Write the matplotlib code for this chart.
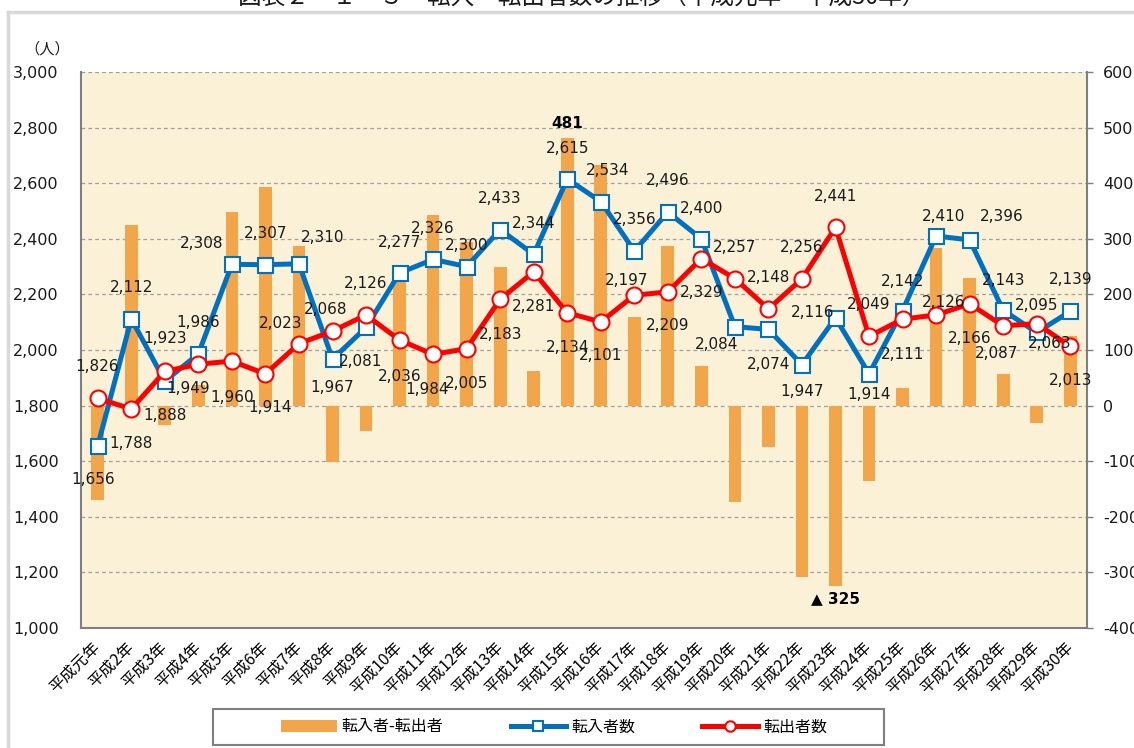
import matplotlib
matplotlib.use('Agg')
import matplotlib.pyplot as plt
from matplotlib.lines import Line2D
from matplotlib.patches import Patch, Rectangle

plt.rcParams['font.family'] = ['DejaVu Sans', 'Noto Sans CJK JP']

# ---------------- data ----------------
years = ['平成元年', '平成2年', '平成3年', '平成4年', '平成5年', '平成6年', '平成7年',
         '平成8年', '平成9年', '平成10年', '平成11年', '平成12年', '平成13年', '平成14年',
         '平成15年', '平成16年', '平成17年', '平成18年', '平成19年', '平成20年', '平成21年',
         '平成22年', '平成23年', '平成24年', '平成25年', '平成26年', '平成27年', '平成28年',
         '平成29年', '平成30年']
transfers_in = [1656, 2112, 1888, 1986, 2308, 2307, 2310, 1967, 2081, 2277,
                2326, 2300, 2433, 2344, 2615, 2534, 2356, 2496, 2400, 2084,
                2074, 1947, 2116, 1914, 2142, 2410, 2396, 2143, 2063, 2139]
transfers_out = [1826, 1788, 1923, 1949, 1960, 1914, 2023, 2068, 2126, 2036,
                 1984, 2005, 2183, 2281, 2134, 2101, 2197, 2209, 2329, 2257,
                 2148, 2256, 2441, 2049, 2111, 2126, 2166, 2087, 2095, 2013]
net = [-170, 324, -35, 37, 348, 393, 287, -101, -45, 241,
       342, 295, 250, 63, 481, 433, 159, 287, 71, -173,
       -74, -309, -325, -135, 31, 284, 230, 56, -32, 126]
left_ticks = [1000, 1200, 1400, 1600, 1800, 2000, 2200, 2400, 2600, 2800, 3000]
right_ticks = [-400, -300, -200, -100, 0, 100, 200, 300, 400, 500, 600]
series_names = ['転入者-転出者', '転入者数', '転出者数']
title = '図表２－１－３　転入・転出者数の推移（平成元年～平成30年）'

# label offsets in pixels (dx, dy up) - styling only
in_off = [(-5, -34), (0, 31), (0, -34), (0, 31), (-30, 21), (0, 31), (24, 26), (0, -28),
          (-5, -34), (0, 30), (0, 31), (0, 21), (0, 31), (0, 31), (0, 31), (7, 31),
          (0, 32), (0, 32), (0, 30), (-18, -18), (0, -35), (0, -27), (-23, 5), (0, -21),
          (0, 29), (7, 20), (32, 23), (0, 30), (13, -11), (0, 32)]
out_off = [(-1, 32), (0, -35), (0, 33), (-10, -24), (0, -36), (5, -34), (-18, 20), (-7, 22),
           (0, 31), (0, -37), (-6, -35), (0, -35), (0, -35), (0, -35), (0, -35), (0, -34),
           (-8, 15), (0, -34), (0, -34), (0, 31), (0, 31), (0, 31), (0, 31), (0, 32),
           (0, -35), (8, 12), (0, -35), (-7, -28), (0, 18), (0, -34)]

BLUE = '#0070C0'
RED = '#FF0000'
ORANGE = '#F3A54A'
BG = '#FAF1D7'
GRAY = '#7F7F7F'

W, H = 1134, 748
fig = plt.figure(figsize=(W / 100, H / 100), dpi=100)
fig.patch.set_facecolor('white')

ax_bar = fig.add_axes([81 / W, 1 - 628 / H, 1006 / W, 556 / H])
ax_line = ax_bar.twinx()
ax_bar.set_facecolor(BG)
x = list(range(len(years)))

ax_bar.bar(x, net, width=0.38, color=ORANGE, zorder=2)
ax_bar.set_ylim(-400, 600)
ax_bar.set_yticks(right_ticks)
ax_bar.set_yticklabels([f'{v}' for v in right_ticks])
ax_bar.yaxis.tick_right()
ax_bar.set_xlim(-0.5, len(years) - 0.5)
ax_bar.set_axisbelow(True)
ax_bar.yaxis.grid(True, linestyle=(0, (3, 2.5)), color='#A0A0A0', linewidth=0.9)
ax_bar.tick_params(axis='y', which='both', right=True, left=False, labelleft=False,
                   labelright=True, length=4.5, width=1, color=GRAY, labelsize=11.5,
                   pad=7, labelcolor='#1a1a1a')
ax_bar.set_xticks(x)
ax_bar.set_xticklabels(years, rotation=45, ha='right', va='center',
                       rotation_mode='anchor', fontsize=11.5,
                       family=['Noto Sans CJK JP'])
ax_bar.tick_params(axis='x', length=0, pad=12)
for s in ['left', 'right', 'bottom']:
    ax_bar.spines[s].set_color(GRAY)
    ax_bar.spines[s].set_linewidth(1.5)
ax_bar.spines['top'].set_visible(False)

ax_bar.annotate('481', (14, net[14]), xytext=(0, 15), textcoords='offset pixels',
                ha='center', va='center', fontsize=11, fontweight='bold', zorder=10)
ax_bar.annotate('▲ 325', (22, net[22]), xytext=(0, -12), textcoords='offset pixels',
                ha='center', va='center', fontsize=11, fontweight='bold', zorder=10)

ax_line.set_ylim(1000, 3000)
ax_line.yaxis.tick_left()
ax_line.set_yticks(left_ticks)
ax_line.set_yticklabels([f'{v:,}' for v in left_ticks])
ax_line.tick_params(axis='y', left=True, right=False, labelleft=True, labelright=False,
                    length=0, labelsize=11.5, pad=16, labelcolor='#1a1a1a')
for s in ax_line.spines.values():
    s.set_visible(False)

ax_line.plot(x, transfers_in, color=BLUE, lw=3.6, marker='s', ms=10.8,
             mfc='white', mec=BLUE, mew=1.5, zorder=3)
ax_line.plot(x, transfers_out, color=RED, lw=3.6, marker='o', ms=11.5,
             mfc='white', mec=RED, mew=1.5, zorder=4)

for i, v in enumerate(transfers_in):
    ax_line.annotate(f'{v:,}', (i, v), xytext=in_off[i], textcoords='offset pixels',
                     ha='center', va='center', fontsize=11, color='#1a1a1a', zorder=10)
for i, v in enumerate(transfers_out):
    ax_line.annotate(f'{v:,}', (i, v), xytext=out_off[i], textcoords='offset pixels',
                     ha='center', va='center', fontsize=11, color='#1a1a1a', zorder=10)

# unit label
fig.text(47 / W, 1 - 49 / H, '（人）', ha='center', va='center', fontsize=11,
         color='#1a1a1a')

# legend
fig.add_artist(Rectangle((213 / W, 1 - 745 / H), 671 / W, 36 / H,
                         transform=fig.transFigure, facecolor='white',
                         edgecolor=GRAY, linewidth=1.5))
handles = [Patch(facecolor=ORANGE, edgecolor='none'),
           Line2D([], [], color=BLUE, lw=3.6, marker='s', ms=7, mfc='white',
                  mec=BLUE, mew=1.5),
           Line2D([], [], color=RED, lw=3.6, marker='o', ms=7.5, mfc='white',
                  mec=RED, mew=1.5)]
fig.legend(handles, series_names, loc='center', bbox_to_anchor=(554 / W, 1 - 727 / H),
           bbox_transform=fig.transFigure, ncol=3, frameon=False, fontsize=11.5,
           handlelength=3.5, handletextpad=0.3, columnspacing=4.2)

# page border and cut-off title
fig.add_artist(Line2D([8 / W, 8 / W], [0, 1 - 12 / H], transform=fig.transFigure,
                      color='#D9D9D9', lw=2.5))
fig.add_artist(Line2D([8 / W, 1], [1 - 12 / H, 1 - 12 / H], transform=fig.transFigure,
                      color='#D9D9D9', lw=2.5))
fig.text(582 / W, 1 - 4 / H, title, ha='center', va='baseline', fontsize=17,
         family=['Noto Sans CJK JP'], color='#1a1a1a')

fig.savefig('out.png', dpi=100)
